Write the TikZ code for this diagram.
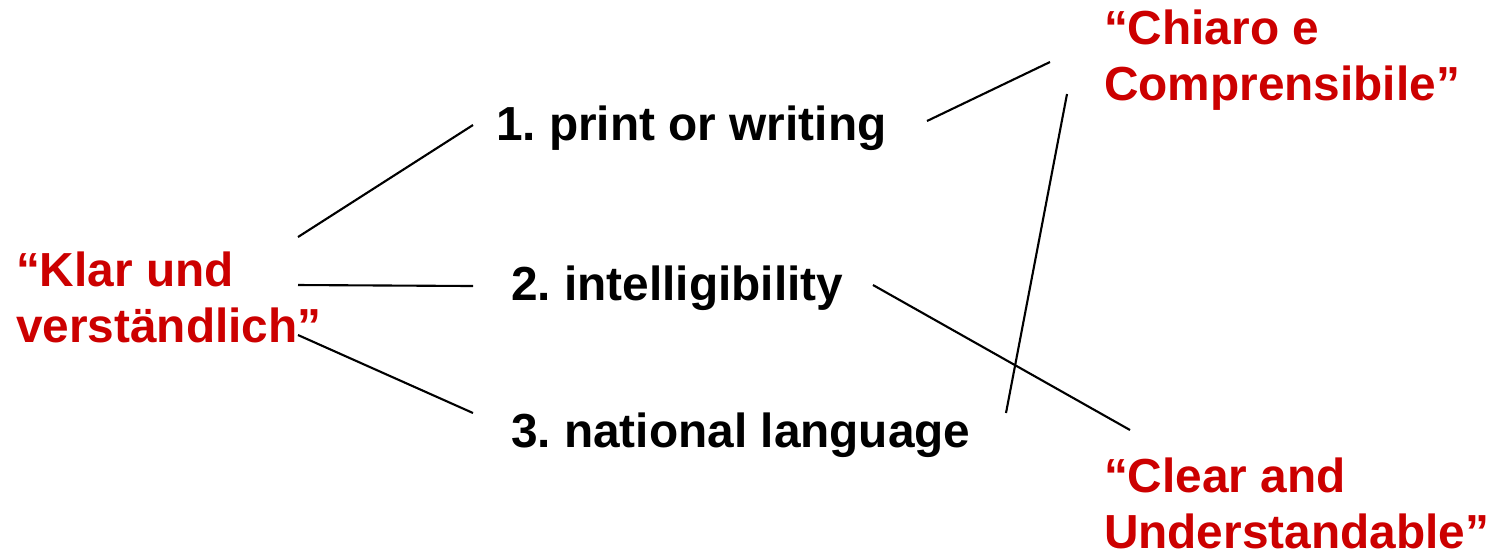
\documentclass[tikz,border=0pt]{standalone}
\usepackage{fontspec}
\setmainfont{Liberation Sans}
\usetikzlibrary{positioning}
\definecolor{quotered}{HTML}{CC0000}
\frenchspacing

\begin{document}
\begin{tikzpicture}[font=\fontsize{13.6pt}{15.9pt}\selectfont\bfseries,
          line width=0.6pt,
          term/.style={anchor=base west, inner sep=0pt},
          gloss/.style={anchor=base west, inner sep=0pt, align=left, text=quotered}]
        \useasboundingbox (0,0) rectangle (14.98,-5.53);
        % german phrase (left), placed by its last line
        \node[gloss] (klar) at (0.15,-3.42) {“Klar und\\verständlich”};
        % the three readings (middle column)
        \node[term] (print) at (4.95,-1.40) {1. print or writing};
        \node[term] (intel) at (5.10,-3.00) {2. intelligibility};
        \node[term] (natl) at (5.10,-4.47) {3. national language};
        % italian and english phrases (right)
        \node[gloss] (chiaro) at (11.03,-1.00) {“Chiaro e\\Comprensibile”};
        \node[gloss] (clear) at (11.03,-5.48) {“Clear and\\Understandable”};
        % line ends next to each text
        \coordinate (klar-a) at (2.98,-2.37);
        \coordinate (klar-b) at (2.98,-2.85);
        \coordinate (klar-c) at (2.98,-3.35);
        \coordinate (print-w) at (4.73,-1.25);
        \coordinate (print-e) at (9.27,-1.21);
        \coordinate (intel-w) at (4.73,-2.86);
        \coordinate (intel-e) at (8.73,-2.85);
        \coordinate (natl-w) at (4.73,-4.13);
        \coordinate (natl-e) at (10.06,-4.13);
        \coordinate (chiaro-a) at (10.50,-0.62);
        \coordinate (chiaro-b) at (10.67,-0.94);
        \coordinate (clear-a) at (11.30,-4.30);
        % links
        \draw (klar-a) -- (print-w);
        \draw (klar-b) -- (intel-w);
        \draw (klar-c) -- (natl-w);
        \draw (print-e) -- (chiaro-a);
        \draw (natl-e) -- (chiaro-b);
        \draw (intel-e) -- (clear-a);
      \end{tikzpicture}
\end{document}
